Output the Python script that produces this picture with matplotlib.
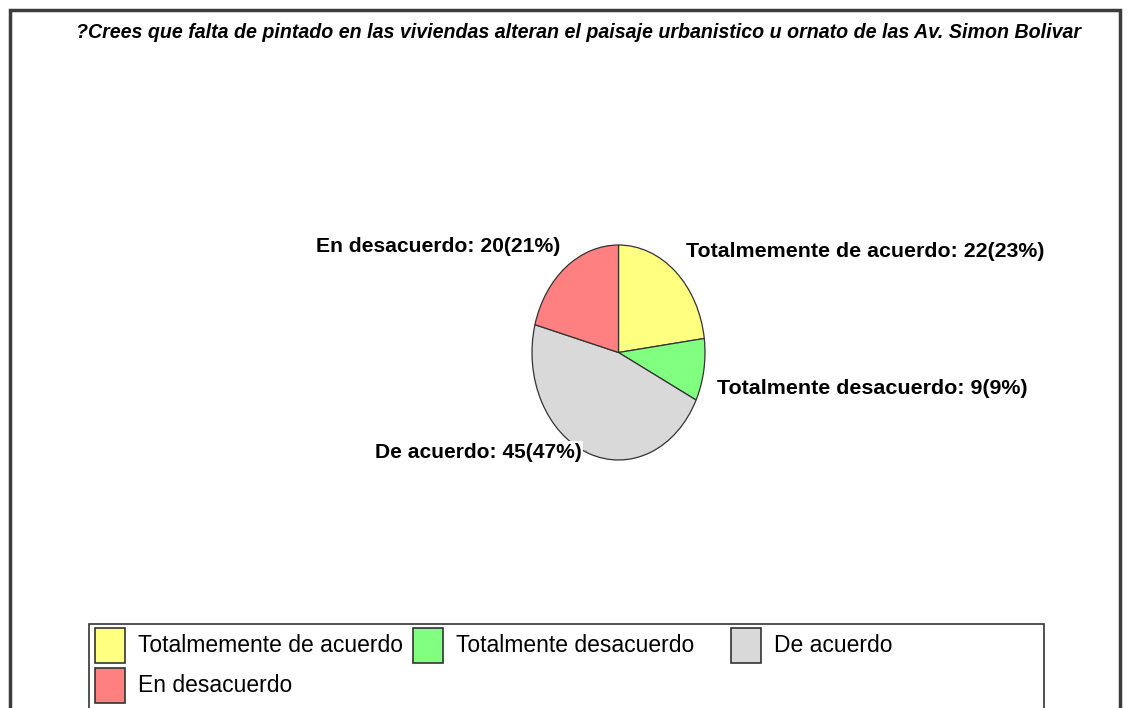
import matplotlib
matplotlib.use("Agg")
import matplotlib.pyplot as plt
import numpy as np
from matplotlib import font_manager
from matplotlib.patches import Rectangle

# ---- data ----
title = "?Crees que falta de pintado en las viviendas alteran el paisaje urbanistico u ornato de las Av. Simon Bolivar"
categories = ["Totalmemente de acuerdo", "Totalmente desacuerdo", "De acuerdo", "En desacuerdo"]
values = [22, 9, 45, 20]
colors = ["#FFFF80", "#80FF80", "#D9D9D9", "#FF8080"]

W, H = 1129, 708
fig = plt.figure(figsize=(W / 100, H / 100), dpi=100)
fig.patch.set_facecolor("white")

names = {f.name for f in font_manager.fontManager.ttflist}
narrow = "Liberation Sans Narrow" if "Liberation Sans Narrow" in names else "Liberation Sans"


def fx(px):
    return px / W


def fy(py):
    return 1 - py / H


renderer = fig.canvas.get_renderer()


def fit(t, width):
    bb = t.get_window_extent(renderer)
    t.set_fontsize(t.get_fontsize() * width / bb.width)


# outer frame
fig.patches.append(Rectangle((fx(10), fy(760)), fx(1120) - fx(10), fy(10) - fy(760),
                             transform=fig.transFigure, fill=False,
                             edgecolor="#3c3c3c", linewidth=2.5, zorder=0))

# title
t = fig.text(fx(579), fy(33), title, ha="center", va="center",
             fontsize=16, fontweight="bold", fontstyle="italic", family=[narrow, "DejaVu Sans"])
fit(t, 1008)

# pie
cx, cy, rx, ry = 618.5, 352.5, 86.5, 107.5
ax = fig.add_axes([fx(cx - rx), fy(cy + ry), 2 * rx / W, 2 * ry / H])
wedges, _ = ax.pie(values, colors=colors, startangle=90, counterclock=False,
                   wedgeprops=dict(edgecolor="#333333", linewidth=0.9))
ax.set_aspect("auto")
ax.set_xlim(-1, 1)
ax.set_ylim(-1, 1)
ax.axis("off")

total = sum(values)
labels = [f"{c}: {v}({round(100 * v / total)}%)" for c, v in zip(categories, values)]

# label placements (pixel anchors, alignment, target width)
placements = [
    (686, 252, "left", 359),
    (717, 389, "left", 311),
    (582, 452, "right", 207),
    (560, 247, "right", 245),
]
for lab, (px, py, ha, wid) in zip(labels, placements):
    bbox = dict(facecolor="white", edgecolor="none", pad=1) if lab.startswith("De acuerdo") else None
    tt = fig.text(fx(px), fy(py), lab, ha=ha, va="center", fontsize=15,
                  fontweight="bold", family=["Liberation Sans", "DejaVu Sans"], bbox=bbox, zorder=5)
    fit(tt, wid)

# leader line for "De acuerdo"
ang = np.deg2rad(90 - 360 * (values[0] + values[1] + values[2] / 2) / total)
ax.annotate("", xy=(np.cos(ang) * 0.97, np.sin(ang) * 0.97),
            xytext=(fx(583), fy(452)), textcoords="figure fraction",
            arrowprops=dict(arrowstyle="-", color="#777777", lw=1), zorder=4)

# legend box
fig.patches.append(Rectangle((fx(89), fy(760)), fx(1044) - fx(89), fy(624) - fy(760),
                             transform=fig.transFigure, fill=False,
                             edgecolor="#333333", linewidth=1.2, zorder=1))
text_widths = [265, 238, 120, 175]
for i, (cat, col) in enumerate(zip(categories, colors)):
    r, c = divmod(i, 3)
    x0 = 95 + 318 * c
    y0 = 628 + 40 * r
    fig.patches.append(Rectangle((fx(x0), fy(y0 + 35)), 30 / W, 35 / H,
                                 transform=fig.transFigure, facecolor=col,
                                 edgecolor="#333333", linewidth=1.2, zorder=2))
    lt = fig.text(fx(x0 + 43), fy(y0 + 18), cat, ha="left", va="center",
                  fontsize=16, family=[narrow, "DejaVu Sans"])
    if i == 0:
        fit(lt, 265)
        legend_fs = lt.get_fontsize()
    else:
        lt.set_fontsize(legend_fs)

fig.savefig("out.png", dpi=100, facecolor="white")
